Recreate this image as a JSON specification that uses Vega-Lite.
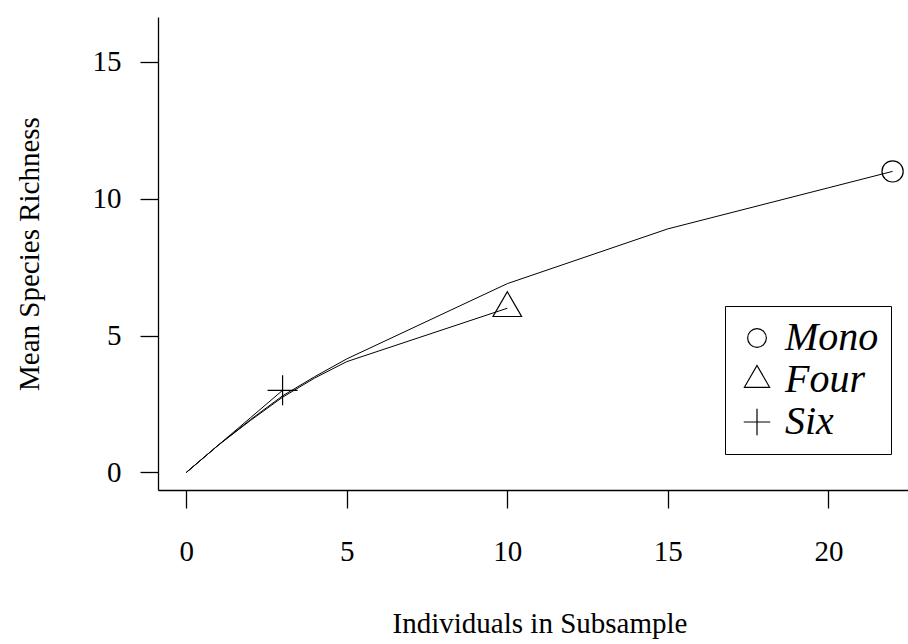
{
  "$schema": "https://vega.github.io/schema/vega-lite/v6.json",
  "autosize": {"type": "none"},
  "padding": {"left": 158, "top": 17, "right": 0, "bottom": 154},
  "width": 750,
  "height": 473,
  "background": "white",
  "config": {
    "view": {"stroke": null},
    "font": "Liberation Serif",
    "axis": {
      "grid": false,
      "domainColor": "black",
      "domainWidth": 1.3,
      "tickColor": "black",
      "tickWidth": 1.3,
      "tickSize": 18,
      "labelFont": "Liberation Serif",
      "labelFontSize": 29,
      "labelColor": "black",
      "labelFlush": false,
      "labelOverlap": false,
      "titleFont": "Liberation Serif",
      "titleFontSize": 29,
      "titleFontWeight": "normal",
      "titleColor": "black"
    }
  },
  "data": {
    "values": [
      {"community": "Mono", "individuals": 0, "richness": 0},
      {"community": "Mono", "individuals": 1, "richness": 1},
      {"community": "Mono", "individuals": 2, "richness": 1.93},
      {"community": "Mono", "individuals": 3, "richness": 2.8},
      {"community": "Mono", "individuals": 4, "richness": 3.5},
      {"community": "Mono", "individuals": 5, "richness": 4.15},
      {"community": "Mono", "individuals": 10, "richness": 6.9},
      {"community": "Mono", "individuals": 15, "richness": 8.9},
      {"community": "Mono", "individuals": 20, "richness": 10.4},
      {"community": "Mono", "individuals": 22, "richness": 11},
      {"community": "Four", "individuals": 0, "richness": 0},
      {"community": "Four", "individuals": 1, "richness": 1},
      {"community": "Four", "individuals": 2, "richness": 1.9},
      {"community": "Four", "individuals": 3, "richness": 2.75},
      {"community": "Four", "individuals": 4, "richness": 3.45},
      {"community": "Four", "individuals": 5, "richness": 4.05},
      {"community": "Four", "individuals": 10, "richness": 6},
      {"community": "Six", "individuals": 0, "richness": 0},
      {"community": "Six", "individuals": 1, "richness": 1},
      {"community": "Six", "individuals": 2, "richness": 2},
      {"community": "Six", "individuals": 3, "richness": 3}
    ]
  },
  "transform": [
    {"joinaggregate": [{"op": "max", "field": "individuals", "as": "last"}], "groupby": ["community"]}
  ],
  "encoding": {
    "x": {
      "field": "individuals",
      "type": "quantitative",
      "scale": {"domain": [-0.88, 22.48], "nice": false, "zero": false},
      "axis": {
        "title": "Individuals in Subsample",
        "values": [0, 5, 10, 15, 20],
        "labelBaseline": "alphabetic",
        "labelPadding": 52,
        "titleX": 381.5,
        "titleY": 142,
        "titleAlign": "center",
        "titleBaseline": "alphabetic"
      }
    },
    "y": {
      "field": "richness",
      "type": "quantitative",
      "scale": {"domain": [-0.64, 16.64], "nice": false, "zero": false},
      "axis": {
        "title": "Mean Species Richness",
        "values": [0, 5, 10, 15],
        "labelPadding": 19,
        "labelBaseline": "middle",
        "titleX": -120,
        "titleY": 236.5,
        "titleAngle": -90,
        "titleAlign": "center",
        "titleBaseline": "alphabetic"
      }
    }
  },
  "layer": [
    {
      "mark": {"type": "line", "color": "black", "strokeWidth": 1},
      "encoding": {
        "detail": {"field": "community"},
        "order": {"field": "individuals", "type": "quantitative"}
      }
    },
    {
      "transform": [{"filter": "datum.individuals == datum.last"}],
      "mark": {"type": "point", "filled": false, "stroke": "black", "strokeWidth": 1.2, "size": 900, "opacity": 1},
      "encoding": {
        "shape": {
          "field": "community",
          "type": "nominal",
          "scale": {
            "domain": ["Mono", "Four", "Six"],
            "range": [
              "M0.707,0A0.707,0.707,0,1,1,-0.707,0A0.707,0.707,0,1,1,0.707,0Z",
              "M0,-1.1L0.953,0.55L-0.953,0.55Z",
              "M-1,0L1,0M0,-1L0,1"
            ]
          },
          "legend": {
            "title": null,
            "orient": "none",
            "legendX": 567,
            "legendY": 289,
            "padding": 12,
            "rowPadding": 2,
            "labelOffset": 8,
            "labelFont": "Liberation Serif",
            "labelFontStyle": "italic",
            "labelFontSize": 40,
            "labelColor": "black",
            "symbolSize": 700,
            "symbolStrokeColor": "black",
            "symbolStrokeWidth": 1.2,
            "symbolFillColor": "transparent",
            "strokeColor": "black",
            "fillColor": "white"
          }
        }
      }
    }
  ]
}
